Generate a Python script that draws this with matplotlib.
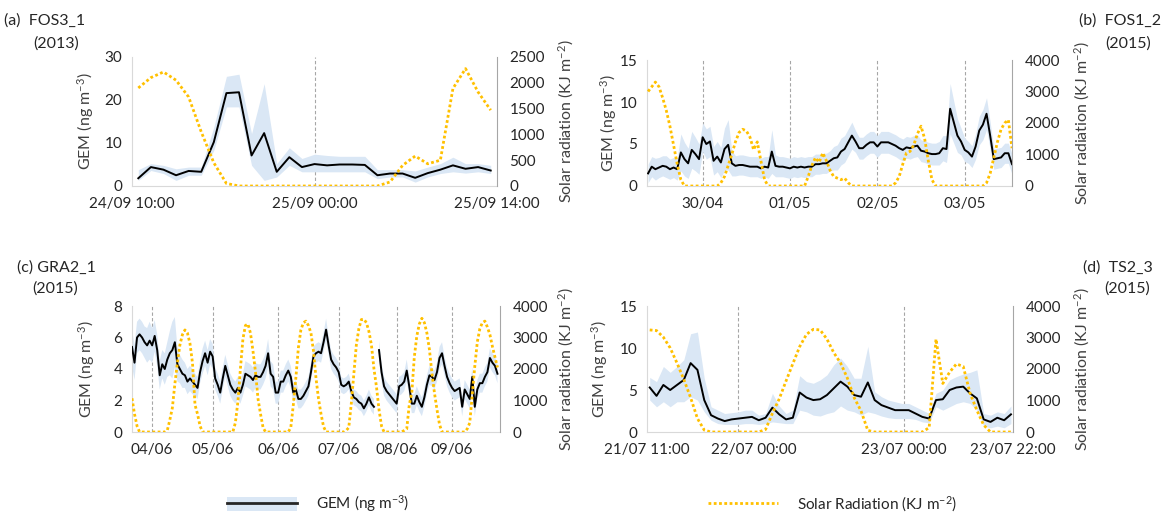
import matplotlib.pyplot as plt
import numpy as np
from matplotlib.patches import Patch
from matplotlib.lines import Line2D

plt.rcParams['font.family'] = ['Lato', 'DejaVu Sans']
plt.rcParams['mathtext.fontset'] = 'custom'
plt.rcParams['mathtext.rm'] = 'Lato'
plt.rcParams['mathtext.it'] = 'Lato:italic'
plt.rcParams['mathtext.default'] = 'regular'

# (a) FOS3_1, hourly from 24/09 10:00
gem_a = [1.8, 4.4, 3.8, 2.5, 3.5, 3.3, 10.2, 21.6, 21.8, 7.1, 12.3, 3.3, 6.7, 4.4, 5.1,
         4.8, 5.0, 5.0, 4.9, 2.5, 2.9, 2.9, 1.9, 3.0, 3.8, 4.8, 4.0, 4.4, 3.6]
hi_a = [3.8, 5.2, 4.8, 4.0, 4.4, 4.4, 13.7, 25.5, 26.0, 12.2, 23.8, 5.2, 8.9, 6.4, 7.4,
        7.1, 6.9, 6.9, 6.9, 3.8, 3.8, 3.8, 3.5, 4.4, 5.2, 6.7, 5.2, 5.2, 4.8]
lo_a = [1.3, 3.6, 2.9, 1.3, 2.5, 2.5, 8.3, 18.4, 18.4, 4.8, 1.3, 2.1, 4.8, 3.3, 3.3,
        3.3, 3.3, 3.3, 3.3, 1.7, 2.1, 2.1, 0.9, 2.1, 2.9, 3.3, 3.0, 3.3, 2.9]
sun_a = [1900, 2100, 2210, 2050, 1725, 1050, 450, 50, 0, 0, 0, 0, 0, 0, 0,
         0, 0, 0, 0, 0, 78, 400, 580, 430, 500, 1890, 2275, 1820, 1470]

# (b) FOS1_2, hourly from 29/04 09:00 (hour 0 = 30/04 00:00)
gem_b = [1.5, 2.3, 2.0, 2.2, 2.4, 2.3, 2.0, 2.2, 2.0,
         4.0, 3.2, 2.7, 4.3, 3.8, 3.2,
         5.8, 5.0, 5.3, 3.0, 3.5, 2.8, 4.4, 4.9, 2.7, 2.4,
         2.5, 2.5, 2.4, 2.3, 2.3, 2.3, 2.1, 2.3, 2.2, 4.1,
         2.4, 2.3, 2.3, 2.2, 2.1, 2.3, 2.2, 2.3, 2.2, 2.3,
         2.3, 2.6, 2.6, 2.7, 2.7, 3.0, 3.3, 3.4, 4.1, 4.4,
         5.2, 6.0, 5.3, 4.5, 4.5, 4.9, 5.2, 5.2, 4.7, 5.2,
         5.2, 5.2, 5.0, 4.8, 4.5, 4.3, 4.6, 4.5, 4.7, 4.8,
         4.2, 4.1, 3.9, 3.8, 3.8, 3.9, 4.5, 4.4, 9.2, 7.6,
         6.0, 5.3, 4.3, 4.0, 3.5, 4.7, 6.6, 7.3, 8.6, 6.0,
         3.2, 3.3, 3.4, 3.9, 3.9, 2.6]
sd_b = [1.1, 1.2, 1.3, 1.2, 1.2, 1.3, 1.2, 1.2, 1.3,
        2.2, 2.0, 1.8, 2.2, 2.0, 1.8,
        1.7, 1.8, 1.8, 1.7, 1.8, 1.8, 2.5, 3.0, 1.5, 1.2,
        1.2, 1.2, 1.2, 1.2, 1.2, 1.2, 1.2, 1.2, 1.3, 2.6,
        1.3, 1.2, 1.2, 1.2, 1.2, 1.2, 1.2, 1.2, 1.2, 1.2,
        1.2, 1.2, 1.2, 1.2, 1.2, 1.2, 1.4, 1.5, 1.6, 1.6,
        1.6, 1.6, 1.3, 1.3, 1.3, 1.3, 1.3, 1.3, 1.3, 1.3,
        1.3, 1.3, 1.3, 1.3, 1.3, 1.3, 1.3, 1.3, 1.3, 1.3,
        1.3, 1.3, 1.3, 1.3, 1.3, 1.4, 1.5, 1.6, 3.0, 2.5,
        2.0, 1.6, 1.4, 1.3, 1.3, 1.5, 1.7, 1.8, 1.9, 1.6,
        1.2, 1.2, 1.2, 1.2, 1.2, 1.2]
sun_b = [3000, 3150, 3300, 3150, 2800, 2400, 1900, 1300, 700, 200,
         0, 0, 0, 0, 0, 0, 0, 0, 0, 0,
         100, 300, 650, 1000, 1400, 1700, 1800, 1750, 1550, 1150, 1400, 800, 200,
         0, 0, 0, 0, 0, 0, 0, 0, 0, 0, 0,
         300, 650, 900, 750, 1050, 800, 500, 300, 250, 200, 250, 100,
         0, 0, 0, 0, 0, 0, 0, 0, 0, 0, 0, 0,
         100, 300, 700, 1050, 1100, 1300, 1650, 1900, 1500, 800, 200,
         0, 0, 0, 0, 0, 0, 0, 0, 0, 0, 0, 0, 0, 0,
         100, 400, 900, 1400, 1800, 2000, 2100, 1200]

# (c) GRA2_1, consecutive samples
gem_c = [5.4, 4.4, 6.0, 6.2, 6.0, 5.7, 5.5, 5.8, 5.5, 6.1,
         5.2, 3.6, 4.3, 4.0, 4.6, 5.0, 5.2, 5.7, 4.3, 4.0,
         3.7, 3.6, 3.2, 3.4, 3.2, 3.0, 2.8, 3.8, 4.5, 5.0,
         4.4, 5.1, 4.8, 3.4, 3.0, 2.5, 3.4, 4.2, 3.6, 3.0,
         2.7, 2.5, 2.8, 2.5, 3.0, 3.7, 3.6, 3.5, 3.3, 3.6,
         3.5, 3.5, 3.8, 4.2, 5.0, 3.7, 3.5, 2.5, 2.5, 3.2,
         3.2, 3.6, 3.9, 3.5, 2.5, 2.7, 2.1, 2.1, 2.3, 2.6,
         2.9, 3.8, 4.8, 5.0, 5.1, 5.0, 5.7, 6.5, 5.5, 4.6,
         4.3, 4.1, 3.8, 3.0, 2.9, 3.0, 3.2, 2.6, 2.2, 2.1,
         1.9, 1.8, 1.5, 1.8, 2.2, 1.8, 1.6, np.nan, 5.2, 3.8,
         2.9, 2.6, 2.4, 2.2, 2.0, 1.8, 2.9, 3.0, 3.2, 3.9,
         2.9, 1.8, 1.8, 2.3, 1.9, 1.6, 2.2, 3.0, 3.6, 3.5,
         3.3, 3.8, 4.7, 5.0, 4.2, 3.5, 3.1, 2.8, 2.6, 2.7,
         2.8, 1.6, 2.7, 2.4, 2.1, 3.5, 1.6, 2.7, 3.1, 3.1,
         3.5, 3.8, 4.7, 4.4, 4.2, 3.7]
sd_c = [1.2, 1.1, 1.0, 1.0, 1.0, 1.0, 1.1, 1.2, 1.1, 1.0,
        1.0, 0.9, 0.9, 1.0, 1.1, 1.4, 1.8, 1.6, 1.1, 0.9,
        0.9, 0.8, 0.8, 0.8, 0.8, 0.7, 0.7, 0.7, 0.8, 0.8,
        0.8, 0.8, 0.8, 0.7, 0.7, 0.7, 0.7, 0.7, 0.7, 0.7,
        0.7, 0.7, 0.7, 0.7, 0.7, 0.8, 0.8, 0.8, 0.8, 0.8,
        0.8, 0.8, 0.8, 0.8, 0.9, 0.8, 0.8, 0.7, 0.7, 0.7,
        0.7, 0.7, 0.7, 0.7, 0.6, 0.6, 0.6, 0.6, 0.6, 0.6,
        0.6, 0.6, 0.6, 0.6, 0.6, 0.6, 0.6, 0.7, 0.6, 0.6,
        0.6, 0.6, 0.6, 0.5, 0.5, 0.5, 0.5, 0.5, 0.5, 0.5,
        0.5, 0.5, 0.5, 0.5, 0.5, 0.5, 0.5, 0.5, 0.6, 0.6,
        0.6, 0.6, 0.6, 0.6, 0.6, 0.6, 0.6, 0.6, 0.6, 0.7,
        0.6, 0.6, 0.6, 0.6, 0.6, 0.6, 0.6, 0.6, 0.6, 0.6,
        0.6, 0.6, 0.7, 0.7, 0.6, 0.6, 0.6, 0.6, 0.6, 0.6,
        0.6, 0.6, 0.6, 0.6, 0.6, 0.6, 0.6, 0.6, 0.6, 0.6,
        0.6, 0.6, 0.6, 0.6, 0.6, 0.6]
sun_c = [1070, 570, 190, 0, 0, 0, 0, 0, 0, 0,
         0, 0, 0, 0, 50, 380, 760, 1520, 2190, 2760,
         3090, 3240, 3140, 2810, 2190, 860, 570, 190, 0, 0,
         0, 0, 0, 0, 0, 0, 0, 0, 0, 0,
         0, 290, 950, 2000, 2950, 3380, 3430, 3140, 2570, 1900,
         1050, 570, 140, 0, 0, 0, 0, 0, 0, 0,
         0, 0, 0, 140, 860, 1710, 2670, 3240, 3470, 3520,
         3380, 3140, 2570, 1710, 1050, 570, 170, 0, 0, 0,
         0, 0, 0, 0, 0, 50, 140, 900, 1810, 2760,
         3280, 3570, 3580, 3470, 3190, 2760, 2000, 1430, 710, 190,
         0, 0, 0, 0, 0, 0, 0, 0, 50, 100,
         860, 1240, 2380, 3050, 3430, 3610, 3470, 3140, 2620, 1860,
         1240, 710, 240, 0, 0, 0, 0, 0, 0, 0,
         0, 0, 0, 100, 290, 1190, 2090, 2860, 3280, 3470,
         3520, 3330, 3090, 2710, 2380, 2050]

# (d) TS2_3, consecutive samples from 21/07 11:00
gem_d = [5.3, 4.3, 5.6, 5.0, 5.6, 6.2, 8.2, 7.4, 3.8, 2.0,
         1.6, 1.3, 1.5, 1.6, 1.7, 1.8, 1.4, 1.7, 2.9, 2.1,
         1.5, 1.7, 4.7, 4.1, 3.8, 3.9, 4.4, 5.2, 6.0, 5.4,
         4.4, 4.2, 5.9, 3.8, 3.2, 2.9, 2.6, 2.6, 2.6, 2.2,
         1.8, 1.6, 3.8, 3.9, 5.0, 5.3, 5.4, 4.6, 4.0, 1.5,
         1.2, 1.7, 1.4, 2.1]
hi_d = [6.5, 6.0, 7.8, 7.1, 7.8, 8.6, 11.7, 11.9, 6.4, 3.0,
        2.6, 2.2, 2.3, 2.4, 2.6, 2.6, 2.0, 2.2, 4.6, 3.1,
        2.2, 2.6, 6.7, 6.0, 5.8, 6.2, 6.8, 8.0, 8.8, 7.8,
        6.4, 6.4, 10.2, 4.8, 4.2, 3.8, 3.6, 3.4, 3.4, 3.0,
        2.6, 2.2, 4.6, 5.0, 6.2, 6.6, 6.9, 7.1, 7.4, 2.2,
        2.0, 2.4, 2.2, 3.1]
lo_d = [3.8, 3.0, 3.6, 3.0, 3.6, 3.6, 4.2, 3.8, 2.4, 1.4,
        1.0, 0.9, 0.9, 0.9, 1.0, 1.0, 0.9, 1.0, 1.2, 1.1,
        1.0, 1.0, 2.6, 2.4, 2.0, 1.9, 2.2, 2.4, 3.1, 2.6,
        2.4, 2.0, 2.4, 2.2, 1.9, 1.7, 1.6, 1.6, 1.6, 1.5,
        1.2, 1.1, 3.0, 2.6, 3.0, 3.4, 3.6, 3.4, 2.6, 0.7,
        0.5, 0.7, 0.5, 1.0]
sun_d = [3240, 3220, 3010, 2670, 2190, 1670, 1090, 430, 60, 0,
         0, 0, 0, 0, 0, 0, 0, 80, 590, 1050,
         1620, 2170, 2710, 3100, 3260, 3240, 2950, 2520, 2190, 1710,
         1090, 670, 50, 0, 0, 0, 0, 0, 0, 0,
         0, 140, 2950, 1540, 1900, 2160, 2080, 1230, 690, 220,
         0, 0, 0, 0]

band_color = '#dae7f5'
sun_color = '#ffc000'
W, H = 1171, 515

fig = plt.figure(figsize=(W / 100, H / 100), dpi=100)


def draw_panel(box, x, gem, lo, hi, sun, gem_ticks, sun_ticks, xlim,
               ticks, labels, midnights, lab_left, lab_right):
    l, t, r, b = box
    ax = fig.add_axes([l / W, 1 - b / H, (r - l) / W, (b - t) / H])
    for m in midnights:
        ax.axvline(m, color='#a6a6a6', lw=0.8, ls=(0, (3, 2)), zorder=1)
    ax.fill_between(x, lo, hi, color=band_color, lw=0, zorder=2)
    ax.plot(x, gem, color='black', lw=1.4, zorder=3)
    ax.set_xlim(xlim)
    ax.set_ylim(gem_ticks[0], gem_ticks[-1])
    ax.set_yticks(gem_ticks)
    ax.set_xticks(ticks, labels)
    ax.tick_params(length=0, labelsize=11, labelcolor='#262626')
    ax.tick_params(axis='x', pad=8)
    ax.tick_params(axis='y', pad=7)
    for s in ['top', 'right']:
        ax.spines[s].set_visible(False)
    ax.spines['left'].set_color('#d9d9d9')
    ax.spines['bottom'].set_color('#d9d9d9')
    ax.set_ylabel('GEM (ng m$^{-3}$)', fontsize=11.5, color='#404040')
    ax.yaxis.set_label_coords(lab_left, 0.5)

    ax2 = ax.twinx()
    ax2.plot(x, sun, color=sun_color, lw=2.0, ls=(0, (1, 0.9)))
    ax2.set_ylim(sun_ticks[0], sun_ticks[-1])
    ax2.set_yticks(sun_ticks)
    ax2.tick_params(length=0, labelsize=11, labelcolor='#262626', pad=9)
    for s in ['top', 'left', 'bottom']:
        ax2.spines[s].set_visible(False)
    ax2.spines['right'].set_color('#a6a6a6')
    ax2.set_ylabel('Solar radiation (KJ m$^{-2}$)', fontsize=11.5, color='#404040')
    ax2.yaxis.set_label_coords(lab_right, 0.5)
    return ax


# panel (a)
hours_a = np.arange(len(gem_a))
draw_panel((132, 57, 497, 186), hours_a, gem_a, lo_a, hi_a, sun_a,
           [0, 10, 20, 30], [0, 500, 1000, 1500, 2000, 2500], (-0.5, 28.5),
           [-0.5, 14, 28.5], ['24/09 10:00', '25/09 00:00', '25/09 14:00'],
           [14], -0.10, 1.162)

# panel (b)
hours_b = np.arange(len(gem_b)) - 15
gem_b = np.array(gem_b)
sd_b = np.array(sd_b)
draw_panel((647, 60, 1012, 186), hours_b, gem_b, gem_b - sd_b, gem_b + sd_b, sun_b,
           [0, 5, 10, 15], [0, 1000, 2000, 3000, 4000], (-15.3, 85),
           [0, 24, 48, 72], ['30/04', '01/05', '02/05', '03/05'],
           [0, 24, 48, 72], -0.077, 1.165)

# panel (c)
idx_c = np.arange(len(gem_c))
gem_c = np.array(gem_c)
sd_c = np.array(sd_c)
draw_panel((132, 306, 500, 432), idx_c, gem_c, gem_c - sd_c, gem_c + sd_c, sun_c,
           [0, 2, 4, 6, 8], [0, 1000, 2000, 3000, 4000], (0, 146),
           [8, 32, 58, 82, 105, 127], ['04/06', '05/06', '06/06', '07/06', '08/06', '09/06'],
           [8, 32, 58, 82, 105, 127], -0.095, 1.153)

# panel (d)
idx_d = np.arange(len(gem_d))
draw_panel((647, 306, 1013, 432), idx_d, gem_d, lo_d, hi_d, sun_d,
           [0, 5, 10, 15], [0, 1000, 2000, 3000, 4000], (-0.4, 53.3),
           [-0.4, 15.3, 37.3, 53.3], ['21/07 11:00', '22/07 00:00', '23/07 00:00', '23/07 22:00'],
           [13, 37.3], -0.102, 1.162)

# panel titles
title_kw = dict(fontsize=11.5, color='#262626', va='center')
fig.text(4 / W, 1 - 21 / H, '(a)  FOS3_1', ha='left', **title_kw)
fig.text(33 / W, 1 - 43.5 / H, '(2013)', ha='left', **title_kw)
fig.text(1161 / W, 1 - 21 / H, '(b)  FOS1_2', ha='right', **title_kw)
fig.text(1151 / W, 1 - 43.5 / H, '(2015)', ha='right', **title_kw)
fig.text(17 / W, 1 - 267.5 / H, '(c) GRA2_1', ha='left', **title_kw)
fig.text(32 / W, 1 - 288.5 / H, '(2015)', ha='left', **title_kw)
fig.text(1153 / W, 1 - 268 / H, '(d)  TS2_3', ha='right', **title_kw)
fig.text(1150 / W, 1 - 289 / H, '(2015)', ha='right', **title_kw)

# legend
gem_handle = (Patch(facecolor=band_color, edgecolor='none'),
              Line2D([], [], color='#262626', lw=2.0))
sun_handle = Line2D([], [], color=sun_color, lw=2.0, ls=(0, (1, 0.9)))
leg_kw = dict(loc='center left', frameon=False, fontsize=11, borderpad=0,
              borderaxespad=0, handlelength=4.6, handleheight=1.05,
              handletextpad=1.2, labelcolor='#262626')
fig.legend([gem_handle], ['GEM (ng m$^{-3}$)'],
           bbox_to_anchor=(227 / W, 1 - 504 / H), **leg_kw)
fig.legend([sun_handle], ['Solar Radiation (KJ m$^{-2}$)'],
           bbox_to_anchor=(708 / W, 1 - 504 / H), **leg_kw)

fig.savefig('out.png', dpi=100)
